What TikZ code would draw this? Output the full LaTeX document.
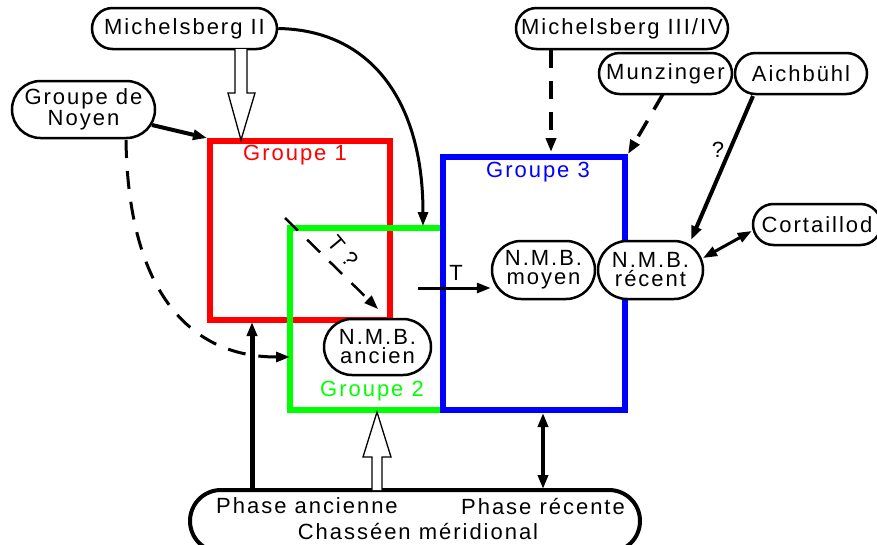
\documentclass[tikz,border=0pt]{standalone}
\usepackage{fontspec}
\setmainfont{Liberation Sans}[LetterSpace=9]
\usetikzlibrary{shapes.misc,arrows.meta}
\newcommand\myfs{\fontsize{22}{19}\selectfont}
\definecolor{pure red}{RGB}{255,0,0}
\definecolor{pure green}{RGB}{0,255,0}
\definecolor{pure blue}{RGB}{0,0,255}
\begin{document}
\begin{tikzpicture}[x=1pt,y=-1pt,
  box/.style={rounded rectangle, draw, line width=2.5pt, inner sep=0pt, font=\myfs, align=center, fill=white},
  lab/.style={font=\myfs, inner sep=0pt},
  ar/.style={-{Triangle[length=14pt,width=10pt]}},
  dar/.style={{Triangle[length=14pt,width=10pt]}-{Triangle[length=14pt,width=10pt]}},
  dsh/.style={dash pattern=on 18pt off 13pt},
  hollow/.style={draw, fill=white, line width=1.3pt, line join=miter},
  grp/.style={draw, line width=6pt, rectangle, inner sep=0pt}
 ]
\useasboundingbox (0,0) rectangle (877,544);
% group boxes
\node[grp, draw=pure red, minimum width=180pt, minimum height=179pt] (g1) at (300,230.5) {};
\node[lab, text=pure red] (g1l) at (295,155) {Groupe 1};
\draw[pure green, line width=6pt, line join=miter] (443,228) coordinate (g2tr) -- (290,228) coordinate (g2tl) -- (290,409.5) coordinate (g2bl) -- (443,409.5) coordinate (g2br);
\node[lab, text=pure green] (g2l) at (372,391) {Groupe 2};
\node[grp, draw=pure blue, minimum width=182pt, minimum height=253pt] (g3) at (534,283.5) {};
\node[lab, text=pure blue] (g3l) at (538,172) {Groupe 3};

% nodes
\node[box, minimum width=185pt, minimum height=41pt] (m2) at (184.5,28.5) {Michelsberg II};
\node[box, minimum width=143pt, minimum height=57pt] (noy) at (83.5,109.5) {Groupe de\\Noyen};
\node[box, minimum width=212pt, minimum height=41pt] (m34) at (622,28.5) {Michelsberg III/IV};
\node[box, minimum width=133pt, minimum height=41pt] (mun) at (665.5,73.5) {Munzinger};
\node[box, minimum width=132pt, minimum height=41pt] (aic) at (801,73.5) {Aichbühl};
\node[box, minimum width=128pt, minimum height=41pt] (cor) at (817,224.5) {Cortaillod};
\node[box, minimum width=103pt, minimum height=58pt] (moy) at (543.5,270) {N.M.B.\\moyen};
\node[box, minimum width=105pt, minimum height=58pt] (rec) at (650.5,270) {N.M.B.\\récent};
\node[box, minimum width=107pt, minimum height=56pt] (anc) at (377.5,347) {N.M.B.\\ancien};
\node[box, line width=4pt, minimum width=450pt, minimum height=62pt] (cha) at (415,521) {};
\node[lab] (pa) at (307,506) {Phase ancienne};
\node[lab] (pr) at (543,506) {Phase récente};
\node[lab] (cm) at (418,531) {Chasséen méridional};

% connectors
\draw[hollow] (235,49) -- (235,93) -- (228,93) -- (241,140) -- (255,93) -- (247,93) -- (247,49);
\draw[ar, line width=3pt] (m2.east) .. controls (370,30) and (423,100) .. (423,226);
\coordinate (noyA) at (152,125);
\draw[ar, line width=4pt] (noyA) -- (g1.north west);
\coordinate (noyB) at (126,140);
\draw[ar, line width=3pt, dsh] (noyB) .. controls (128,285) and (185,357) .. (g2bl |- 0,357);
\coordinate (tq) at (285,218);
\coordinate (tqe) at (378,309);
\draw[ar, line width=2.5pt, dsh] (tq) -- (tqe);
\node[lab, rotate=-50] (tql) at (343,251) {T ?};
\coordinate (ts) at (418,288);
\draw[ar, line width=3pt] (ts) -- (moy.west |- ts);
\node[lab] (tl) at (456,273) {T};
\draw[ar, line width=3.5pt, dsh] (m34.south -| 551,0) -- (551,152);
\draw[ar, line width=3.5pt, dsh] (663,94) -- (g3.north east);
\draw[ar, line width=4pt] (753,96) -- (691,240);
\node[lab] (ql) at (718,150) {?};
\draw[dar, line width=3pt] (703,258) -- (cor.west |- 0,231);
\coordinate (cb1) at (252,490);
\draw[ar, line width=5pt] (cb1) -- (252,322);
\draw[hollow] (372,490) -- (372,457) -- (363,457) -- (377,412) -- (391,457) -- (382,457) -- (382,490);
\draw[dar, line width=4pt] (543,413) -- (543,489);
\end{tikzpicture}
\end{document}
